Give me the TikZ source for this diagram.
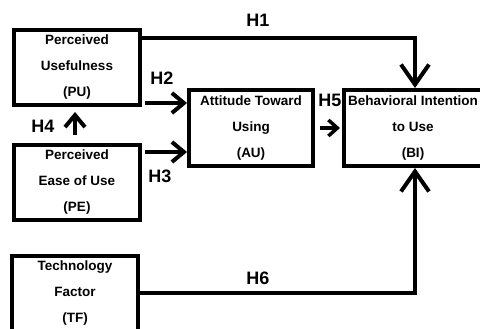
\documentclass[tikz,border=0pt]{standalone}
\usepackage{fontspec}
\setmainfont{Liberation Sans}
\usetikzlibrary{arrows.meta}

\begin{document}
\begin{tikzpicture}[
  x=1pt, y=-1pt,
  box/.style={rectangle, draw=black, line width=4pt, minimum width=126pt,
              minimum height=75pt, align=center, inner sep=0pt,
              font=\fontsize{13.5}{26}\selectfont\bfseries},
  hlab/.style={font=\fontsize{18}{20}\selectfont\bfseries},
  arrow/.style={line width=4pt, -{Straight Barb[length=12pt, width=20pt]}},
  smallarrow/.style={line width=3.5pt, -{Straight Barb[length=9pt, width=16pt]}},
  bigarrow/.style={line width=4pt, -{Straight Barb[length=20pt, width=28pt]}}
]
  \useasboundingbox[fill=white] (0,0) rectangle (480,329);

  \node[box] (PU) at (77,67.5)  {Perceived\\Usefulness\\(PU)};
  \node[box] (PE) at (77,182.5) {Perceived\\Ease of Use\\(PE)};
  \node[box] (TF) at (75,293)   {Technology\\Factor\\(TF)};
  \node[box, minimum width=124pt, minimum height=76pt] (AU) at (251,128)
        {Attitude Toward\\Using\\(AU)};
  \node[box, minimum width=138pt, minimum height=76pt] (BI) at (413,128)
        {Behavioral Intention\\to Use\\(BI)};

  \draw[bigarrow] ([yshift=-10pt]PU.north east) -| ([xshift=2pt]BI.north);
  \draw[arrow] ([xshift=3pt, yshift=4pt]PU.south east) -- ([yshift=25pt]AU.west);
  \draw[arrow] ([xshift=3pt, yshift=-9pt]PE.north east) -- ([yshift=-24pt]AU.west);
  \draw[arrow, shorten <=8pt, shorten >=5pt] ([xshift=-2pt]PE.north) -- ([xshift=-2pt]PU.south);
  \draw[smallarrow] ([xshift=5pt]AU.east) -- ([xshift=-2pt]BI.west);
  \draw[bigarrow] (TF.east) -| ([xshift=2pt]BI.south);

  \node[hlab] (h1) at (258,20)  {H1};
  \node[hlab] (h2) at (162,78)  {H2};
  \node[hlab] (h3) at (160,176) {H3};
  \node[hlab] (h4) at (43,126)  {H4};
  \node[hlab] (h5) at (330,100) {H5};
  \node[hlab] (h6) at (258,278) {H6};
\end{tikzpicture}
\end{document}
